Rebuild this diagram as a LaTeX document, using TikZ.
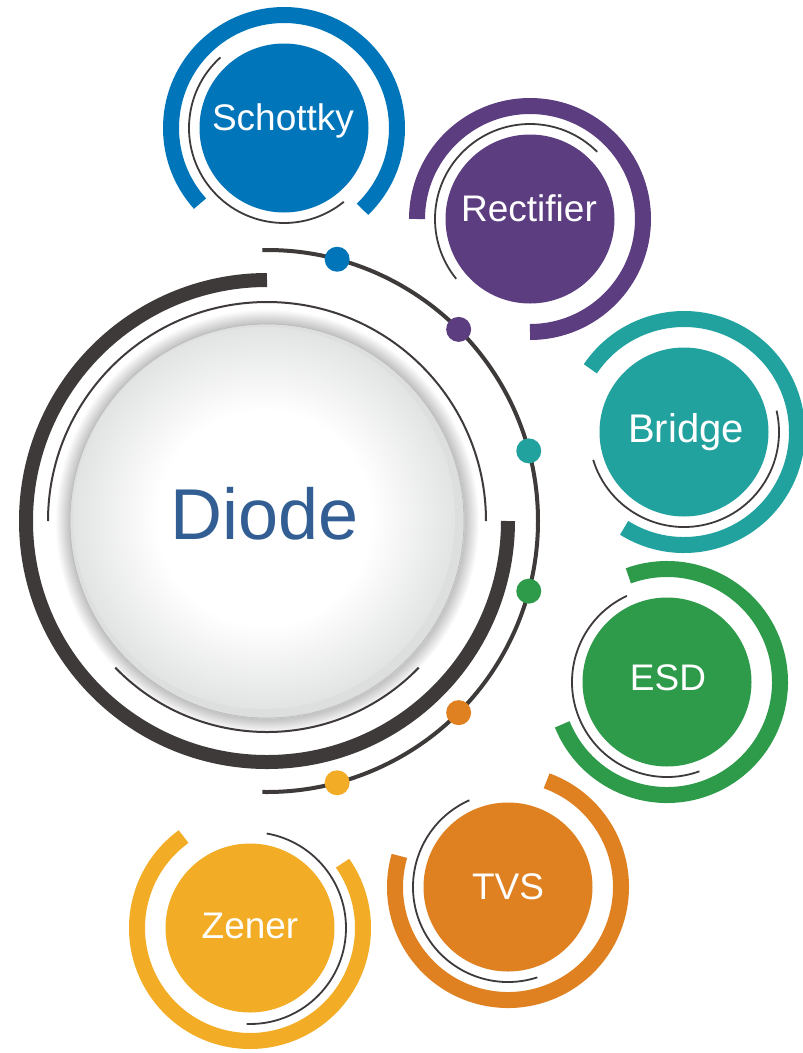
\documentclass[tikz,border=0pt]{standalone}
\usepackage{fontspec}
\setmainfont{Liberation Sans}
\usepackage{xcolor}
\usepackage{tikz}

\definecolor{schottkyblue}{HTML}{0075BA}
\definecolor{rectpurple}{HTML}{5C3D80}
\definecolor{bridgeteal}{HTML}{21A29F}
\definecolor{esdgreen}{HTML}{2E9B4B}
\definecolor{tvsorange}{HTML}{DF8021}
\definecolor{zeneryellow}{HTML}{F2AC25}
\definecolor{darkline}{HTML}{3E3A39}
\definecolor{diodeblue}{HTML}{335E93}
\definecolor{rimgray}{HTML}{DDDEDE}
\definecolor{edgegray}{HTML}{E2E3E3}
\definecolor{shadowgray}{HTML}{C2C2C3}

\pgfdeclareradialshading{halo}{\pgfpoint{0bp}{0bp}}{color(0bp)=(white); color(23bp)=(white); color(23.3bp)=(shadowgray); color(25bp)=(white); color(50bp)=(white)}
\pgfdeclareradialshading{button}{\pgfpoint{0bp}{0bp}}{color(0bp)=(white); color(14bp)=(white); color(25bp)=(edgegray); color(50bp)=(edgegray)}

\begin{document}
\begin{tikzpicture}[x=1pt, y=1pt,
		ring/.style={line width=16pt},
		thinring/.style={darkline, line width=1.8pt},
		disk/.style={circle, fill=#1, minimum size=169pt, inner sep=0pt},
		lbl/.style={white, font=\fontsize{37}{37}\selectfont, anchor=base, inner sep=0pt}]
			\useasboundingbox (0,0) rectangle (803,-1053);
			% centre button
			\coordinate (hub) at (267,-521);
			\shade[shading=halo] (hub) circle (212);
			\fill[rimgray] (hub) circle (197);
			\shade[shading=button] (264,-518) circle (191);
			\draw[gray!55, line width=0.6pt] (hub) circle (197);
			\draw[darkline, line width=14pt] (hub) ++(90:241) arc[start angle=90, end angle=360, radius=241];
			\draw[darkline, line width=2pt] (hub) ++(0:219) arc[start angle=0, end angle=180, radius=219];
			\draw[darkline, line width=2pt] (hub) ++(-136:211) arc[start angle=-136, end angle=-44, radius=211];
			\draw[darkline, line width=4pt] (hub) ++(91:271) arc[start angle=91, end angle=-91, radius=271];
			\node[font=\fontsize{72}{72}\selectfont, text=diodeblue, anchor=base, inner sep=0pt] (diode) at (265,-539) {Diode};
			% dots on the orbit
			\fill[schottkyblue] (hub) ++(75:271) circle (12.5);
			\fill[rectpurple] (hub) ++(45:271) circle (12.5);
			\fill[bridgeteal] (hub) ++(15:271) circle (12.5);
			\fill[esdgreen] (hub) ++(-15:271) circle (12.5);
			\fill[tvsorange] (hub) ++(-45:271) circle (12.5);
			\fill[zeneryellow] (hub) ++(-75:271) circle (12.5);
			% Schottky
			\node[disk=schottkyblue] (schottky) at (284,-128) {};
			\draw[ring, schottkyblue] (schottky.center) ++(-46:113) arc[start angle=-46, end angle=222, radius=113];
			\draw[thinring] (schottky.center) ++(132:95) arc[start angle=132, end angle=309, radius=95];
			\node[lbl] (schottky-text) at (283,-130) {Schottky};
			% Rectifier
			\node[disk=rectpurple] (rectifier) at (530,-219) {};
			\draw[ring, rectpurple] (rectifier.center) ++(-90:113) arc[start angle=-90, end angle=180, radius=113];
			\draw[thinring] (rectifier.center) ++(45:95) arc[start angle=45, end angle=219, radius=95];
			\node[lbl] (rectifier-text) at (529,-221) {Rectifier};
			% Bridge
			\node[disk=bridgeteal] (bridge) at (684,-432) {};
			\draw[ring, bridgeteal] (bridge.center) ++(-122:113) arc[start angle=-122, end angle=146, radius=113];
			\draw[thinring] (bridge.center) ++(-163:95) arc[start angle=-163, end angle=13, radius=95];
			\node[lbl, font=\fontsize{40}{40}\selectfont] (bridge-text) at (686,-442) {Bridge};
			% ESD
			\node[disk=esdgreen] (esd) at (667,-682) {};
			\draw[ring, esdgreen] (esd.center) ++(-158:113) arc[start angle=-158, end angle=110, radius=113];
			\draw[thinring] (esd.center) ++(115:95) arc[start angle=115, end angle=290, radius=95];
			\node[lbl] (esd-text) at (668,-690) {ESD};
			% TVS
			\node[disk=tvsorange] (tvs) at (508,-887) {};
			\draw[ring, tvsorange] (tvs.center) ++(164:113) arc[start angle=164, end angle=430, radius=113];
			\draw[thinring] (tvs.center) ++(114:95) arc[start angle=114, end angle=288, radius=95];
			\node[lbl] (tvs-text) at (508,-899) {TVS};
			% Zener
			\node[disk=zeneryellow] (zener) at (250,-928) {};
			\draw[ring, zeneryellow] (zener.center) ++(126:113) arc[start angle=126, end angle=395, radius=113];
			\draw[thinring] (zener.center) ++(-92:96) arc[start angle=-92, end angle=80, radius=96];
			\node[lbl] (zener-text) at (250,-938) {Zener};
\end{tikzpicture}
\end{document}
